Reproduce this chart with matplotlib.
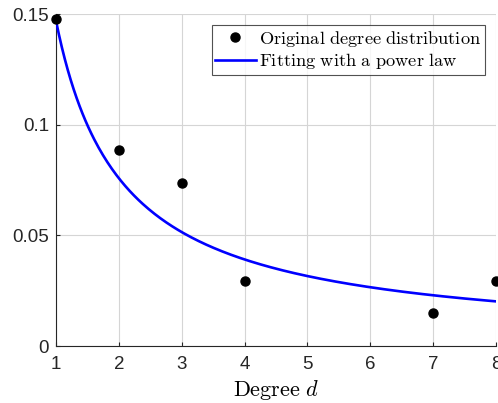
import matplotlib.pyplot as plt
import numpy as np
from matplotlib.ticker import FuncFormatter

plt.rcParams['font.family'] = ['Liberation Sans', 'DejaVu Sans']
plt.rcParams['mathtext.fontset'] = 'cm'

# Observed degree distribution
degrees = [1, 2, 3, 4, 7, 8]
probabilities = [0.1478, 0.0886, 0.0737, 0.0294, 0.0149, 0.0294]

# Power law fit p(d) = c * d^(-alpha)
fit_c = 0.147
fit_alpha = 0.955

d_fit = np.linspace(1, 8, 300)
p_fit = fit_c * d_fit ** (-fit_alpha)

fig = plt.figure(figsize=(4.98, 4.03), dpi=100)
ax = fig.add_axes([0.1124, 0.1414, 0.8835, 0.8238])

ax.plot(degrees, probabilities, 'o', color='black', markersize=6.5,
        label=r'$\mathrm{Original\ degree\ distribution}$', clip_on=False, zorder=4)
ax.plot(d_fit, p_fit, '-', color='#0000ff', linewidth=1.9,
        label=r'$\mathrm{Fitting\ with\ a\ power\ law}$', zorder=3)

ax.set_xlim(1, 8)
ax.set_ylim(0, 0.15)
ax.set_xticks(range(1, 9))
ax.set_yticks([0, 0.05, 0.1, 0.15])
ax.yaxis.set_major_formatter(FuncFormatter(lambda v, p: f'{v:g}'))

ax.grid(True, color='#d5d5d5', linewidth=0.8)
ax.set_axisbelow(True)
for side in ['top', 'right']:
    ax.spines[side].set_visible(False)
for side in ['left', 'bottom']:
    ax.spines[side].set_color('#262626')
    ax.spines[side].set_linewidth(0.8)
ax.tick_params(direction='in', length=3, colors='#262626', labelsize=13.5,
               width=0.8)
ax.tick_params(axis='x', pad=7)
ax.tick_params(axis='y', pad=5)

ax.set_xlabel(r'$\mathrm{Degree}\ d$', fontsize=16, labelpad=4)

leg = ax.legend(loc='upper right', fontsize=13.2, frameon=True, fancybox=False,
                edgecolor='#262626', borderpad=0.2, handlelength=2.2,
                handletextpad=0.2, labelspacing=0.15, borderaxespad=0.6)
leg.get_frame().set_linewidth(0.8)

fig.savefig('out.png', dpi=100)
